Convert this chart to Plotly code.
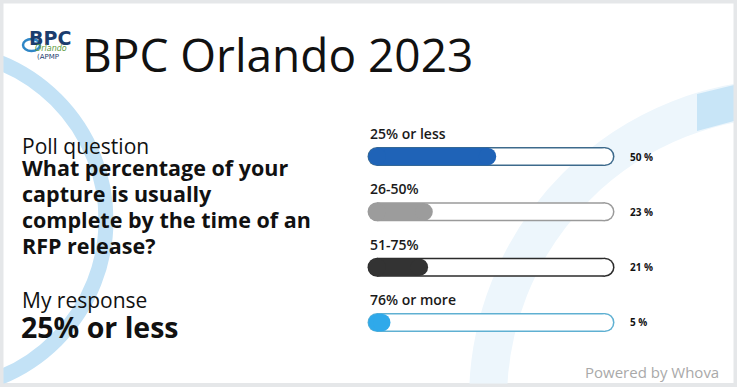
import plotly.graph_objects as go

# ---------------- data ----------------
categories = ["25% or less", "26-50%", "51-75%", "76% or more"]
percents = [50, 23, 21, 5]
title_text = "BPC Orlando 2023"
question_label = "Poll question"
question_lines = ["What percentage of your", "capture is usually",
                  "complete by the time of an", "RFP release?"]
response_label = "My response"
response_text = "25% or less"
footer_text = "Powered by Whova"

# ---------------- style ----------------
W, H = 737, 387
FILL_COLORS = ["#1f63b7", "#9c9c9c", "#333333", "#2fa9ea"]
TRACK_LINE = ["#3d6a8c", "#9a9a9a", "#2b2b2b", "#5fb0d2"]
START = 3          # left cap centre of each track (axis units)
TRACK_END = 100    # right cap centre of each track
FONT = "Open Sans"

def X(px):
    return px / W

def Y(py):
    return 1 - py / H

fig = go.Figure()

for i, (cat, v) in enumerate(zip(categories, percents)):
    fig.add_trace(go.Scatter(
        x=[START, TRACK_END], y=[i, i], mode="lines+markers",
        line=dict(color=TRACK_LINE[i], width=19),
        marker=dict(color=TRACK_LINE[i], size=19, line=dict(width=0)),
        hoverinfo="skip", showlegend=False))
    fig.add_trace(go.Scatter(
        x=[START, TRACK_END], y=[i, i], mode="lines+markers",
        line=dict(color="white", width=16),
        marker=dict(color="white", size=16, line=dict(width=0)),
        hoverinfo="skip", showlegend=False))
    fig.add_trace(go.Scatter(
        x=[START, v], y=[i, i], mode="lines+markers",
        line=dict(color=FILL_COLORS[i], width=17.5),
        marker=dict(color=FILL_COLORS[i], size=17.5, line=dict(width=0)),
        hoverinfo="skip", showlegend=False))

annotations = []
for i, (cat, v) in enumerate(zip(categories, percents)):
    annotations.append(dict(
        x=START, y=i, xref="x", yref="y", xshift=-9, yshift=23,
        xanchor="left", yanchor="middle", showarrow=False, text=cat,
        font=dict(family=FONT, size=14, color="#1a1a1a", weight=600)))
    annotations.append(dict(
        x=TRACK_END, y=i, xref="x", yref="y", xshift=23,
        xanchor="left", yanchor="middle", showarrow=False, text=f"{v} %",
        font=dict(family=FONT, size=10, color="#111111", weight=700)))

for k, line in enumerate(question_lines):
    annotations.append(dict(
        x=X(20), y=Y(167 + 26 * k), xref="paper", yref="paper", xanchor="left", yanchor="middle",
        showarrow=False, text=line,
        font=dict(family=FONT, size=21.5, color="#111111", weight=700)))

annotations += [
    dict(x=X(80), y=Y(54), xref="paper", yref="paper", xanchor="left", yanchor="middle",
         showarrow=False, text=title_text, font=dict(family=FONT, size=46, color="#111111")),
    dict(x=X(20), y=Y(146), xref="paper", yref="paper", xanchor="left", yanchor="middle",
         showarrow=False, text=question_label, font=dict(family=FONT, size=21, color="#111111")),
    dict(x=X(20), y=Y(300), xref="paper", yref="paper", xanchor="left", yanchor="middle",
         showarrow=False, text=response_label, font=dict(family=FONT, size=21, color="#111111")),
    dict(x=X(19), y=Y(327), xref="paper", yref="paper", xanchor="left", yanchor="middle",
         showarrow=False, text=response_text,
         font=dict(family=FONT, size=28.5, color="#111111", weight=700)),
    dict(x=X(721), y=Y(372), xref="paper", yref="paper", xanchor="right", yanchor="middle",
         showarrow=False, text=footer_text, font=dict(family=FONT, size=15, color="#a9a9a9")),
    dict(x=X(50), y=Y(38), xref="paper", yref="paper", xanchor="center", yanchor="middle",
         showarrow=False, text="<b>BPC</b>",
         font=dict(family="DejaVu Sans", size=19, color="#1b3d6e")),
    dict(x=X(51), y=Y(48), xref="paper", yref="paper", xanchor="center", yanchor="middle",
         showarrow=False, text="<i>Orlando</i>",
         font=dict(family="DejaVu Sans", size=8, color="#5e9a3c")),
    dict(x=X(48), y=Y(57), xref="paper", yref="paper", xanchor="center", yanchor="middle",
         showarrow=False, text="(APMP",
         font=dict(family="DejaVu Sans", size=7, color="#1b3d6e")),
]

shapes = [
    dict(type="rect", xref="paper", yref="paper", x0=X(3), x1=X(734), y0=Y(383), y1=Y(3),
         fillcolor="white", line=dict(width=0), layer="below"),
    dict(type="circle", xref="paper", yref="paper", x0=X(-64 - 170), x1=X(-64 + 170),
         y0=Y(220 + 170), y1=Y(220 - 170), line=dict(color="#c3e2f6", width=15), layer="below"),
    dict(type="circle", xref="paper", yref="paper", x0=X(790 - 302), x1=X(790 + 302),
         y0=Y(400 + 302), y1=Y(400 - 302), line=dict(color="#edf6fc", width=38), layer="below"),
    dict(type="path", xref="paper", yref="paper",
         path=f"M {X(697)},{Y(94)} L {X(734)},{Y(85)} L {X(734)},{Y(121)} L {X(697)},{Y(131)} Z",
         fillcolor="#c8e5f7", line=dict(width=0), layer="below"),
    dict(type="circle", xref="paper", yref="paper", x0=X(23), x1=X(40), y0=Y(51), y1=Y(39),
         line=dict(color="#2f86c6", width=2.5), fillcolor="rgba(0,0,0,0)", layer="below"),
    dict(type="rect", xref="paper", yref="paper", x0=0, x1=1, y0=0, y1=1,
         line=dict(color="#e5e7e9", width=7), fillcolor="rgba(0,0,0,0)", layer="above"),
]

u0 = -370 / 2.35
u1 = (W - 370) / 2.35
fig.update_layout(
    width=W, height=H, margin=dict(l=0, r=0, t=0, b=0),
    paper_bgcolor="#e5e7e9", plot_bgcolor="rgba(0,0,0,0)",
    xaxis=dict(range=[u0, u1], visible=False, fixedrange=True, domain=[0, 1]),
    yaxis=dict(range=[(H - 156.5) / 55.33, -156.5 / 55.33], visible=False, fixedrange=True, domain=[0, 1]),
    annotations=annotations, shapes=shapes, showlegend=False,
)

fig.write_html("out.html", config={"displayModeBar": False},
               post_script="document.body.style.margin='0px';document.body.style.overflow='hidden';")
